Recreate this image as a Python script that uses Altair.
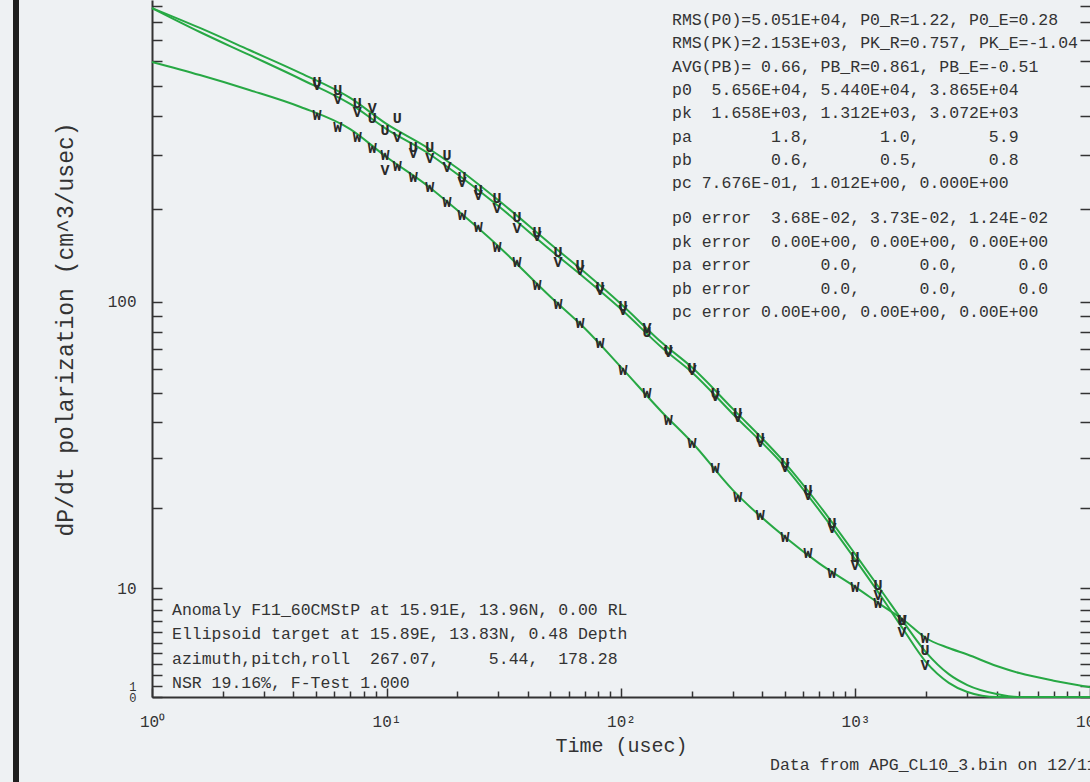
import math
import pandas as pd
import altair as alt

# ---------------- data ----------------
gate_times = [5.05, 6.2, 7.5, 8.7, 9.85, 11.1, 13.0, 15.3, 18.1, 21.0, 24.6, 29.6, 36.0,
              43.8, 53.9, 66.9, 81.4, 102, 129, 159, 201, 252, 315, 392, 501, 627, 794,
              995, 1247, 1578, 1979]
u_obs = [514, 485, 440, 394, 360, 394, 318, 318, 299.5, 254, 231, 217.6, 189, 169, 145.5,
         132, 112, 97, 79.7, 69.5, 60.6, 50, 42.8, 35.2, 28.9, 23.2, 17.7, 13.2, 10.3, 7.1, 4.3]
v_obs = [503, 453, 412, 424, 268, 342, 304, 293, 274, 245, 222.5, 202, 174, 164, 135, 127,
         109.4, 94, 82.2, 68.5, 59.7, 48.8, 41.5, 34.1, 28, 22.3, 17, 12.3, 9.4, 6.0, 2.9]
w_obs = [402.7, 368.5, 342, 315.5, 299.5, 276, 254.4, 236.3, 211.3, 191.8, 175.4, 151.1, 135,
         113.6, 98.5, 85.3, 73.3, 59.7, 50, 40.5, 33.9, 27.75, 21.9, 18.9, 15.7, 13.7, 11.5,
         10.1, 8.6, 7.1, 5.4]

curve_times = [1, 1.6, 2.6, 4.3, 7, 10, 15, 20, 30, 50, 70, 100, 150, 200, 300, 500, 700,
               1000, 1300, 1600, 2000, 2500, 3000, 4000, 5000, 7000, 10000]
u_fit = [887, 766, 651, 549, 457, 377, 315.5, 272, 214, 154.5, 125, 98.5, 73.3, 61, 44.2,
         28.9, 20.5, 13.5, 9.65, 6.9, 4.1, 2.1, 1.1, 0.28, 0, 0, 0]
v_fit = [887, 743.5, 627.6, 525.6, 437, 363, 304, 260, 205, 147.7, 119.8, 94.8, 70.6, 58.8,
         42.5, 28, 19.7, 12.9, 9.1, 6.2, 3.2, 1.3, 0.46, 0, 0, 0, 0]
w_fit = [596, 541, 484.6, 427.3, 363, 295, 238, 199, 152, 104, 82, 61, 43, 34.1, 23.2, 15.7,
         12.5, 10.1, 8.4, 7.1, 5.4, 4.5, 3.9, 2.85, 2.2, 1.5, 0.9]

x_major = [1, 10, 100, 1000, 10000]
x_major_labels = ["10\u2070", "10\u00b9", "10\u00b2", "10\u00b3", "10\u2074"]
y_labeled = [0, 1, 10, 100]
y_labeled_text = ["0", "1", "10", "100"]

fit_lines = [
    "RMS(P0)=5.051E+04, P0_R=1.22, P0_E=0.28",
    "RMS(PK)=2.153E+03, PK_R=0.757, PK_E=-1.04",
    "AVG(PB)= 0.66, PB_R=0.861, PB_E=-0.51",
    "p0  5.656E+04, 5.440E+04, 3.865E+04",
    "pk  1.658E+03, 1.312E+03, 3.072E+03",
    "pa        1.8,       1.0,       5.9",
    "pb        0.6,       0.5,       0.8",
    "pc 7.676E-01, 1.012E+00, 0.000E+00",
]
error_lines = [
    "p0 error  3.68E-02, 3.73E-02, 1.24E-02",
    "pk error  0.00E+00, 0.00E+00, 0.00E+00",
    "pa error       0.0,      0.0,      0.0",
    "pb error       0.0,      0.0,      0.0",
    "pc error 0.00E+00, 0.00E+00, 0.00E+00",
]
target_lines = [
    "Anomaly F11_60CMStP at 15.91E, 13.96N, 0.00 RL",
    "Ellipsoid target at 15.89E, 13.83N, 0.48 Depth",
    "azimuth,pitch,roll  267.07,     5.44,  178.28",
    "NSR 19.16%, F-Test 1.000",
]
source_note = "Data from APG_CL10_3.bin on 12/11/"

# ---------------- styling / layout ----------------
FONT = "Liberation Mono"
INK = "#333333"
GREEN = "#27a844"
BG = "#eef1f3"
PLOT_W, PLOT_H = 938, 697
PX_PER_UNIT = 313.2


def nb(s):
    return s.replace(" ", "\u00a0")


# y axis: log10(y + 2.5) above 10, linear continuation below 10
def ty(v):
    if v >= 10:
        return math.log10(v + 2.5)
    return math.log10(12.5) + (v - 10) / (12.5 * math.log(10))


TY_EXPR = ("datum.y >= 10 ? log(datum.y + 2.5) / LN10 : "
           "log(12.5) / LN10 + (datum.y - 10) / (12.5 * LN10)")

Y_LO = ty(0)
Y_HI = Y_LO + PLOT_H / PX_PER_UNIT

x_ticks = [m * 10 ** e for e in range(4) for m in range(1, 10)] + [10000]
y_ticks_raw = [0] + [m * 10 ** e for e in range(3) for m in range(1, 10)]
y_ticks = [ty(v) for v in y_ticks_raw if ty(v) <= Y_HI]
y_label_vals = [ty(v) for v in y_labeled]

y_label_expr = " : ".join(
    f"abs(datum.value - {val:.8f}) < 0.0001 ? '{lab}'" for val, lab in zip(y_label_vals, y_labeled_text)
) + " : ''"
x_label_expr = " : ".join(
    f"datum.value == {v} ? '{lab}'" for v, lab in zip(x_major, x_major_labels)
) + " : ''"

xscale = alt.Scale(type="log", domain=[1, 10000], nice=False)
yscale = alt.Scale(type="linear", domain=[Y_LO, Y_HI], nice=False, zero=False)

# ---------------- tables ----------------
curve_df = pd.concat([
    pd.DataFrame({"t": curve_times, "y": u_fit, "series": "U"}),
    pd.DataFrame({"t": curve_times, "y": v_fit, "series": "V"}),
    pd.DataFrame({"t": curve_times, "y": w_fit, "series": "W"}),
])
uv_df = pd.concat([
    pd.DataFrame({"t": gate_times, "y": u_obs, "letter": "U"}),
    pd.DataFrame({"t": gate_times, "y": v_obs, "letter": "V"}),
])
w_df = pd.DataFrame({"t": gate_times, "y": w_obs, "letter": "W"})
one = pd.DataFrame({"k": [0]})

# ---------------- layers ----------------
curves = alt.Chart(curve_df).transform_calculate(ty=TY_EXPR).mark_line(
    interpolate="monotone", color=GREEN, strokeWidth=2
).encode(
    x=alt.X("t:Q", scale=xscale, axis=alt.Axis(
        orient="bottom", values=x_major, labelExpr=x_label_expr, ticks=False, tickSize=0,
        domain=True, domainColor=INK, domainWidth=2, grid=False,
        labelFont=FONT, labelFontSize=16, labelColor=INK, labelPadding=16,
        labelFlush=False, labelOverlap=False,
        title="Time (usec)", titleFont=FONT, titleFontSize=20, titleFontWeight="normal",
        titleColor=INK, titleX=PLOT_W / 2, titleY=48, titleBaseline="middle")),
    y=alt.Y("ty:Q", scale=yscale, axis=alt.Axis(
        orient="left", values=y_label_vals, labelExpr=y_label_expr, ticks=False, tickSize=0,
        domain=True, domainColor=INK, domainWidth=2, grid=False,
        labelFont=FONT, labelColor=INK, labelPadding=16, labelOverlap=False,
        labelFontSize={"condition": {"test": f"datum.value < {ty(5):.6f}", "value": 12}, "value": 16},
        title="dP/dt polarization (cm^3/usec)", titleFont=FONT, titleFontSize=23,
        titleFontWeight="normal", titleColor=INK, titleX=-87, titleY=329,
        titleBaseline="middle", titleAlign="center", titleAngle=270)),
    detail="series:N",
)

major_test = "abs(log(datum.value) / LN10 - round(log(datum.value) / LN10)) < 0.001"

markers_uv = alt.Chart(uv_df).transform_calculate(ty=TY_EXPR).mark_text(
    font=FONT, fontSize=15, fontWeight="bold", color="#2a2a2a", baseline="middle", align="center"
).encode(
    x=alt.X("t:Q", scale=xscale, axis=alt.Axis(
        orient="top", offset=-PLOT_H, values=x_ticks, labels=False, domain=False, grid=False,
        ticks=True, tickColor=INK, tickWidth=1.5,
        tickSize={"condition": {"test": major_test, "value": 9}, "value": 6}, title=None)),
    y=alt.Y("ty:Q", scale=yscale, axis=alt.Axis(
        orient="right", offset=-PLOT_W, values=y_ticks, labels=False, domain=False, grid=False,
        ticks=True, tickColor=INK, tickWidth=1.5, tickSize=10, title=None)),
    text="letter:N",
)

markers_w = alt.Chart(w_df).transform_calculate(ty=TY_EXPR).mark_text(
    font=FONT, fontSize=15, fontWeight="bold", color="#2a2a2a", baseline="middle", align="center"
).encode(
    x=alt.X("t:Q", scale=xscale, axis=None),
    y=alt.Y("ty:Q", scale=yscale, axis=alt.Axis(
        orient="left", offset=-PLOT_W, values=y_ticks, labels=False, domain=False, grid=False,
        ticks=True, tickColor=INK, tickWidth=1.5, tickSize=10, title=None)),
    text="letter:N",
)

text_style = dict(font=FONT, fontSize=16.5, color=INK, align="left", baseline="middle")

# multi-line text: y is the centre of the first line
fit_block = alt.Chart(one).mark_text(
    text=[nb(s) for s in fit_lines], lineHeight=23.3, **text_style
).encode(x=alt.value(520), y=alt.value(20))

error_block = alt.Chart(one).mark_text(
    text=[nb(s) for s in error_lines], lineHeight=23.5, **text_style
).encode(x=alt.value(520), y=alt.value(218))

target_block = alt.Chart(one).mark_text(
    text=[nb(s) for s in target_lines], lineHeight=24.3, **text_style
).encode(x=alt.value(20), y=alt.value(610))

note = alt.Chart(one).mark_text(text=nb(source_note), **text_style).encode(
    x=alt.value(618), y=alt.value(765)
)

edge_bar = alt.Chart(one).mark_rule(color="#1e1e1e", strokeWidth=6).encode(
    x=alt.value(-136), y=alt.value(-5), y2=alt.value(PLOT_H + 90)
)

chart = alt.layer(
    curves, markers_uv, markers_w, fit_block, error_block, target_block, note, edge_bar
).resolve_scale(
    x="shared", y="shared"
).resolve_axis(
    x="independent", y="independent"
).properties(
    width=PLOT_W, height=PLOT_H,
    padding={"left": 152, "top": 0, "right": 0, "bottom": 85},
    autosize=alt.AutoSizeParams(type="none"),
    background=BG,
).configure_view(stroke=None)

chart.save("out.html", embed_options={"renderer": "svg", "actions": False})
